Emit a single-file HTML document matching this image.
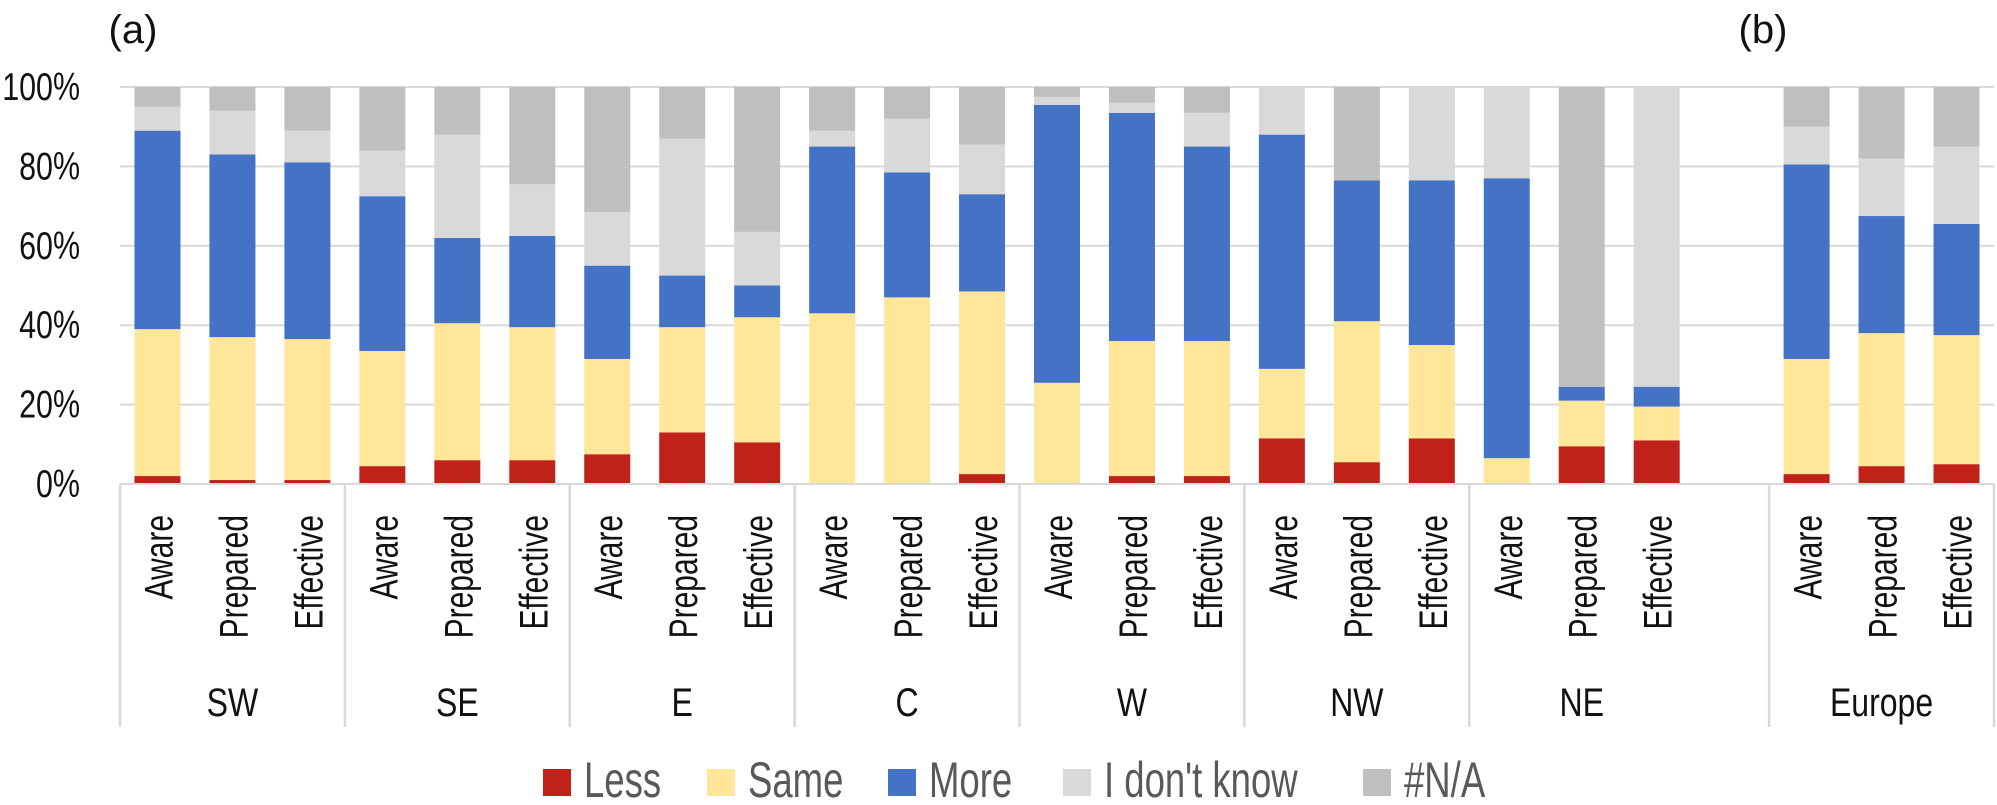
<!DOCTYPE html>
<html><head><meta charset="utf-8"><style>
body{margin:0;background:#fff}
svg text{font-family:"Liberation Sans",sans-serif;fill:#111}
</style></head><body>
<svg id="chart" width="1997" height="800" xmlns="http://www.w3.org/2000/svg"></svg>
<script>
const regions=["SW","SE","E","C","W","NW","NE","Europe"];
const measures=["Aware","Prepared","Effective"];
const seriesNames=["Less","Same","More","I don't know","#N/A"];
// cumulative tops (%) per bar: Less, Same, More, IDK (N/A fills to 100)
const lessVals=[2,1,1, 4.5,6,6, 7.5,13,10.5, 0,0,2.5, 0,2,2, 11.5,5.5,11.5, 0,9.5,11, 2.5,4.5,5];
const sameTops=[39,37,36.5, 33.5,40.5,39.5, 31.5,39.5,42, 43,47,48.5, 25.5,36,36, 29,41,35, 6.5,21,19.5, 31.5,38,37.5];
const moreTops=[89,83,81, 72.5,62,62.5, 55,52.5,50, 85,78.5,73, 95.5,93.5,85, 88,76.5,76.5, 77,24.5,24.5, 80.5,67.5,65.5];
const idkTops=[95,94,89, 84,88,75.5, 68.5,87,63.5, 89,92,85.5, 97.5,96,93.5, 100,76.5,100, 100,24.5,100, 90,82,85];
const yTicks=[0,20,40,60,80,100];
const colors=["#c0221a","#ffe699","#4472c4","#d9d9d9","#bfbfbf"];
const svg=document.getElementById('chart');
const NS="http://www.w3.org/2000/svg";
const X0=120,SLOT=74.96,Y0=484,Y100=87,BW=46,XR=1994;
const y=v=>Y0-(Y0-Y100)*v/100;
const slotOf=i=>{const g=Math.floor(i/3);return g<7?i:i+1;};
const xc=i=>X0+SLOT*(slotOf(i)+0.5);
function mk(t,a){const e=document.createElementNS(NS,t);for(const k in a)e.setAttribute(k,a[k]);svg.appendChild(e);return e;}
function narrow(t,f){const L=t.getComputedTextLength();t.setAttribute('textLength',(L*f).toFixed(1));t.setAttribute('lengthAdjust','spacingAndGlyphs');}
// grid
yTicks.forEach(t=>{
 const l=mk('line',{x1:X0,x2:XR,y1:y(t),y2:y(t),stroke:'#d9d9d9','stroke-width':2});
 
 
 const tx=mk('text',{x:80,y:y(t)+13,'text-anchor':'end','font-size':39});
 tx.textContent=t+'%';
 
 
 narrow(tx,0.78);
});
// bars
for(let i=0;i<24;i++){
 const bounds=[0,lessVals[i],sameTops[i],moreTops[i],idkTops[i],100];
 for(let s=0;s<5;s++){
  const h=y(bounds[s])-y(bounds[s+1]);
  if(h<=0)continue;
  const r=mk('rect',{x:xc(i)-BW/2,y:y(bounds[s+1]),width:BW,height:h,fill:colors[s]});
  
  
 }
 const t=mk('text',{transform:`translate(${xc(i)+15},515) rotate(-90)`,'text-anchor':'end','font-size':40});
 t.textContent=measures[i%3];
 
 
 narrow(t,0.75);
}
// axis line & separators
const ax=mk('line',{x1:X0,x2:XR,y1:Y0,y2:Y0,stroke:'#d9d9d9','stroke-width':2});


[0,3,6,9,12,15,18,22,25].forEach(s=>{
 const l=mk('line',{x1:X0+SLOT*s,x2:X0+SLOT*s,y1:Y0,y2:727,stroke:'#d9d9d9','stroke-width':2.5});
 
 
});
regions.forEach((r,g)=>{
 const t=mk('text',{x:xc(g*3+1),y:716,'text-anchor':'middle','font-size':40});
 t.textContent=r;
 
 
 narrow(t,0.8);
});
// panel labels
[["(a)",133],["(b)",1763]].forEach(([s,x])=>{
 const t=mk('text',{x:x,y:43,'text-anchor':'middle','font-size':40});
 t.textContent=s;
 
 
});
// legend
const legX=[543,707,888,1063,1363];
seriesNames.forEach((n,s)=>{
 const r=mk('rect',{x:legX[s],y:769,width:28,height:27,fill:colors[s]});
 
 
 const t=mk('text',{x:legX[s]+41,y:797,'font-size':50,style:'fill:#595959'});
 t.textContent=n;
 
 
 narrow(t,0.73);
});
</script>
</body></html>
